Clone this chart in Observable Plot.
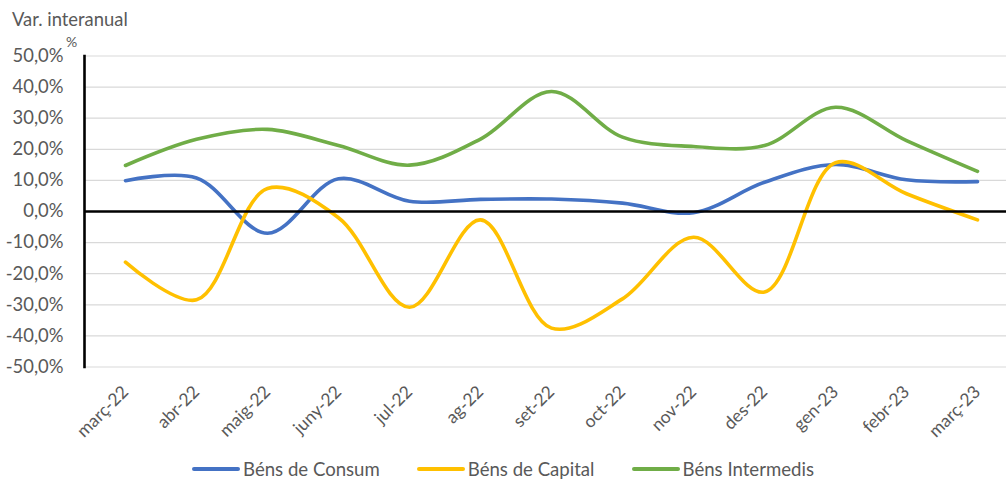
<!DOCTYPE html>
<html>
<head>
<meta charset="utf-8">
<script src="https://cdn.jsdelivr.net/npm/d3@7"></script>
<script src="https://cdn.jsdelivr.net/npm/@observablehq/plot@0.6"></script>
<style>
  html, body { margin: 0; padding: 0; background: #fff; }
  #wrap { position: relative; width: 1006px; height: 479px; font-family: Lato, "Open Sans", sans-serif; color: #595959; }
  #title { position: absolute; left: 12px; top: 8px; font-size: 18.4px; }
  #unit { position: absolute; left: 66px; top: 33px; font-size: 14px; }
  #legend { position: absolute; left: 0; width: 1006px; top: 458px; display: flex; justify-content: center; gap: 37px; font-size: 18.6px; }
  .item { display: flex; align-items: center; }
  .sw { width: 48px; height: 4px; border-radius: 2px; margin-right: 3px; }
  #chart { position: absolute; left: 0; top: 0; }
</style>
</head>
<body>
<div id="wrap">
  <div id="chart"></div>
  <div id="title">Var. interanual</div>
  <div id="unit">%</div>
  <div id="legend"></div>
</div>
<script>
const months = ["març-22","abr-22","maig-22","juny-22","jul-22","ag-22","set-22","oct-22","nov-22","des-22","gen-23","febr-23","març-23"];
const seriesNames = ["Béns de Consum","Béns de Capital","Béns Intermedis"];
const seriesColors = ["#4472C4","#FFC000","#70AD47"];
const consum = [9.9, 10.8, -7.0, 10.5, 3.3, 3.9, 4.0, 2.7, -0.4, 9.4, 15.1, 10.2, 9.6];
const capital = [-16.3, -28.4, 7.4, -2.0, -30.8, -2.7, -37.5, -28.1, -8.3, -25.9, 15.7, 5.7, -2.7];
const intermedis = [14.8, 23.2, 26.4, 21.2, 14.9, 23.3, 38.6, 23.9, 20.9, 21.2, 33.5, 22.8, 12.9];
const yTicks = [50, 40, 30, 20, 10, 0, -10, -20, -30, -40, -50];

const seriesValues = [consum, capital, intermedis];
const data = [];
seriesNames.forEach((s, i) => months.forEach((m, j) => data.push({series: s, month: m, value: seriesValues[i][j]})));

const fmt = d => d.toFixed(1).replace(".", ",") + "%";
const font = "Lato, 'Open Sans', sans-serif";

const chart = Plot.plot({
  width: 1006,
  height: 479,
  marginTop: 55.5,
  marginBottom: 112.5,
  marginLeft: 84,
  marginRight: 0,
  style: {fontFamily: font, background: "white"},
  x: {type: "point", domain: months, range: [119, 982], padding: 0, axis: null},
  y: {domain: [-50, 50], axis: null},
  color: {domain: seriesNames, range: seriesColors},
  marks: [
    Plot.ruleY(yTicks.filter(d => d !== 0), {stroke: "#d9d9d9", strokeWidth: 1.2}),
    Plot.line(data, {x: "month", y: "value", stroke: "series", z: "series", curve: "catmull-rom", strokeWidth: 3.6, strokeLinecap: "round"}),
    Plot.ruleY([0], {stroke: "black", strokeWidth: 2.6}),
    Plot.frame({anchor: "left", stroke: "black", strokeWidth: 2.6}),
    Plot.text(yTicks, {y: d => d, frameAnchor: "left", dx: -21, textAnchor: "end", text: fmt, fill: "#595959", fontSize: 18.4}),
    Plot.text(months, {x: d => d, frameAnchor: "bottom", dy: 22, dx: 0, rotate: -45, textAnchor: "end", lineAnchor: "middle", text: d => d, fill: "#595959", fontSize: 17.5})
  ]
});
document.getElementById("chart").appendChild(chart);

const legend = document.getElementById("legend");
seriesNames.forEach((s, i) => {
  const it = document.createElement("div");
  it.className = "item";
  const sw = document.createElement("span");
  sw.className = "sw";
  sw.style.background = seriesColors[i];
  const t = document.createElement("span");
  t.textContent = s;
  it.appendChild(sw);
  it.appendChild(t);
  legend.appendChild(it);
});
</script>
</body>
</html>
